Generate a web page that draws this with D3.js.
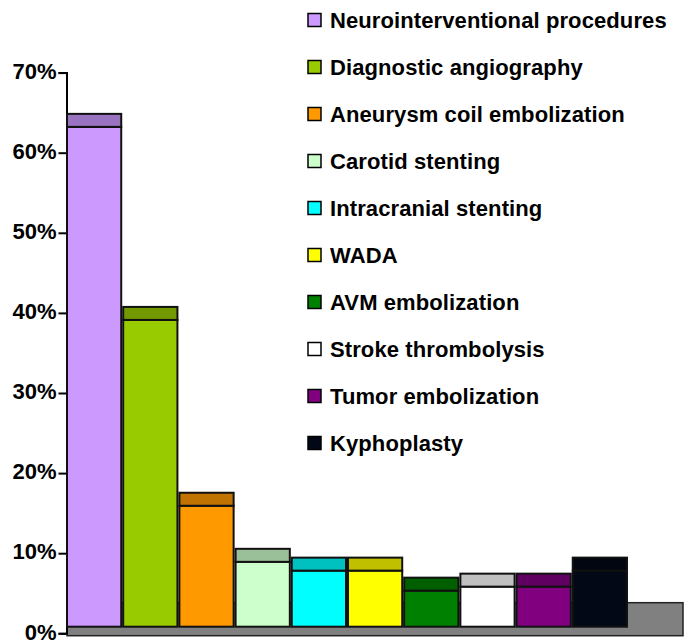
<!DOCTYPE html>
<html>
<head>
<meta charset="utf-8">
<script src="https://cdn.jsdelivr.net/npm/d3@7"></script>
<style>
  body { margin: 0; background: #fff; }
  text { font-family: "Liberation Sans", Arial, sans-serif; font-weight: bold; }
</style>
</head>
<body>
<div id="chart"></div>
<script>
// procedures, percent values, colours
const categories = [
  "Neurointerventional procedures", "Diagnostic angiography", "Aneurysm coil embolization",
  "Carotid stenting", "Intracranial stenting", "WADA", "AVM embolization",
  "Stroke thrombolysis", "Tumor embolization", "Kyphoplasty"
];
const values = [62.4, 38.3, 15.1, 8.1, 7.0, 7.0, 4.5, 5.0, 5.0, 7.0];
const colors = ["#cc99ff", "#99cc00", "#ff9900", "#ccffcc", "#00ffff",
                "#ffff00", "#008000", "#ffffff", "#800080", "#020816"];
const yTicks = [0, 10, 20, 30, 40, 50, 60, 70];

const width = 689, height = 644;
const depth = 13;   // height of the darker top face
const lift = 6.6;   // bars sit a bit above the zero line

const svg = d3.select("#chart")
  .append("svg")
  .attr("width", width)
  .attr("height", height);

const x = d3.scaleBand()
  .domain(categories)
  .range([67, 627])
  .paddingInner(0.035);

const y = d3.scaleLinear()
  .domain([0, 70])
  .range([633.3, 72.6]);

// grey floor
svg.append("rect")
  .attr("x", x.range()[0])
  .attr("y", y(0) - lift - 24)
  .attr("width", 683 - x.range()[0])
  .attr("height", 24 + lift + 2.4)
  .attr("fill", "#808080")
  .attr("stroke", "#222")
  .attr("stroke-width", 1.5);

// y axis
const yAxis = svg.append("g")
  .attr("transform", "translate(66.5,0)")
  .call(d3.axisLeft(y).tickValues(yTicks).tickFormat(d => d + "%").tickSize(8).tickPadding(2));
yAxis.select(".domain").attr("stroke", "#000").attr("stroke-width", 2);
yAxis.selectAll(".tick line").attr("stroke", "#000").attr("stroke-width", 2);
yAxis.selectAll("text")
  .attr("fill", "#000")
  .attr("dy", "0.26em")
  .style("font-size", "22px")
  .style("font-family", "'Liberation Sans', Arial, sans-serif")
  .style("font-weight", "bold");

// bars
const bars = svg.append("g")
  .selectAll("g")
  .data(categories)
  .join("g");

bars.append("rect")
  .attr("x", d => x(d))
  .attr("y", (d, i) => y(values[i]) - lift)
  .attr("width", x.bandwidth())
  .attr("height", (d, i) => y(0) - y(values[i]))
  .attr("fill", (d, i) => colors[i])
  .attr("stroke", "#111")
  .attr("stroke-width", 2);

bars.append("rect")
  .attr("x", d => x(d))
  .attr("y", (d, i) => y(values[i]) - lift - depth)
  .attr("width", x.bandwidth())
  .attr("height", depth)
  .attr("fill", (d, i) => d3.color(colors[i]).darker(0.8))
  .attr("stroke", "#111")
  .attr("stroke-width", 2);

// legend
const legend = svg.append("g")
  .selectAll("g")
  .data(categories)
  .join("g")
  .attr("transform", (d, i) => `translate(308,${20 + i * 47})`);

legend.append("rect")
  .attr("x", 0)
  .attr("y", -6.5)
  .attr("width", 13)
  .attr("height", 13)
  .attr("fill", (d, i) => colors[i])
  .attr("stroke", "#000")
  .attr("stroke-width", 1.5);

legend.append("text")
  .attr("x", 22)
  .attr("y", 8)
  .style("font-size", "22px")
  .style("letter-spacing", "0.1px")
  .text(d => d);
</script>
</body>
</html>
